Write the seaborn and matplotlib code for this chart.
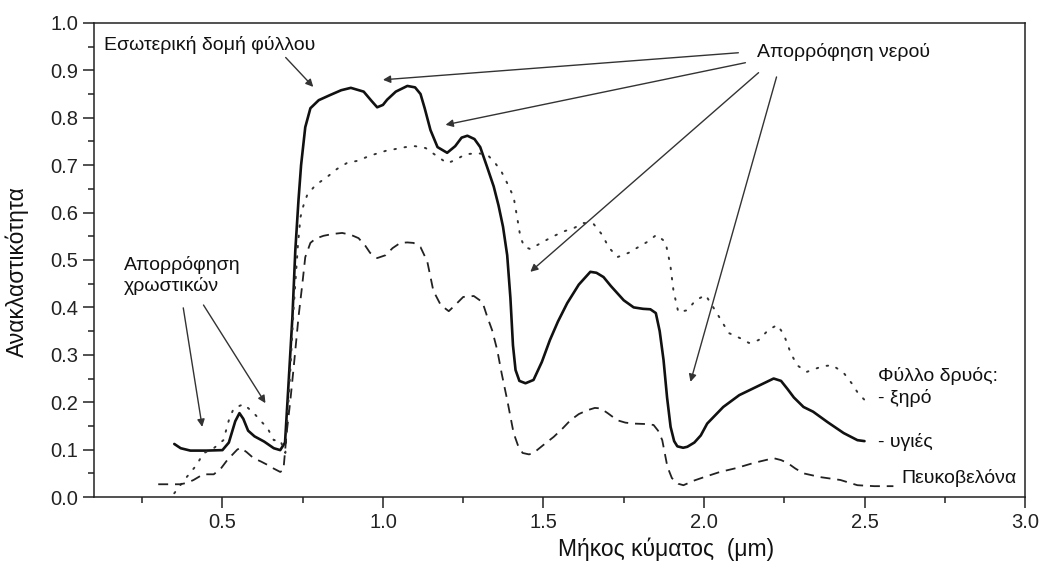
import numpy as np
import pandas as pd
import matplotlib
matplotlib.use("Agg")
import matplotlib.pyplot as plt
from matplotlib.ticker import MultipleLocator
import seaborn as sns

# ---- data ----
healthy_x = [0.35, 0.37, 0.40, 0.45, 0.50, 0.52, 0.54, 0.553, 0.565, 0.58, 0.60, 0.63, 0.66, 0.68,
             0.695, 0.706, 0.718, 0.727, 0.737, 0.745, 0.758, 0.774, 0.80, 0.836, 0.87, 0.90, 0.94,
             0.965, 0.982, 1.00, 1.013, 1.04, 1.076, 1.10, 1.117, 1.13, 1.148, 1.17, 1.20, 1.225,
             1.245, 1.263, 1.285, 1.303, 1.325, 1.345, 1.36, 1.374, 1.387, 1.397, 1.405, 1.413,
             1.425, 1.444, 1.469, 1.495, 1.52, 1.545, 1.574, 1.61, 1.646, 1.665, 1.687, 1.71, 1.73,
             1.75, 1.781, 1.81, 1.833, 1.85, 1.862, 1.874, 1.885, 1.896, 1.907, 1.917, 1.935,
             1.948, 1.97, 1.99, 2.01, 2.06, 2.11, 2.165, 2.217, 2.24, 2.26, 2.28, 2.31, 2.34,
             2.385, 2.435, 2.478, 2.50]
healthy_y = [0.112, 0.103, 0.098, 0.098, 0.099, 0.115, 0.160, 0.177, 0.165, 0.140, 0.128, 0.117,
             0.103, 0.099, 0.115, 0.24, 0.38, 0.52, 0.627, 0.70, 0.78, 0.82, 0.837, 0.848, 0.858,
             0.863, 0.855, 0.835, 0.822, 0.827, 0.838, 0.855, 0.867, 0.864, 0.85, 0.82, 0.774,
             0.738, 0.726, 0.74, 0.758, 0.762, 0.755, 0.738, 0.695, 0.655, 0.615, 0.57, 0.51, 0.42,
             0.32, 0.268, 0.245, 0.240, 0.247, 0.285, 0.331, 0.37, 0.409, 0.448, 0.475, 0.473,
             0.464, 0.445, 0.43, 0.415, 0.40, 0.397, 0.396, 0.388, 0.35, 0.289, 0.21, 0.148, 0.118,
             0.107, 0.104, 0.106, 0.115, 0.13, 0.155, 0.19, 0.215, 0.233, 0.25, 0.245, 0.228,
             0.21, 0.19, 0.18, 0.158, 0.135, 0.12, 0.118]

dry_x = [0.35, 0.38, 0.42, 0.44, 0.473, 0.503, 0.52, 0.535, 0.566, 0.598, 0.62, 0.64, 0.66, 0.68,
         0.696, 0.71, 0.722, 0.735, 0.743, 0.752, 0.764, 0.79, 0.826, 0.857, 0.889, 0.92, 0.96,
         1.008, 1.039, 1.07, 1.10, 1.133, 1.164, 1.20, 1.226, 1.257, 1.293, 1.324, 1.35, 1.37,
         1.387, 1.407, 1.418, 1.428, 1.44, 1.459, 1.49, 1.525, 1.562, 1.594, 1.625, 1.656, 1.683,
         1.703, 1.73, 1.765, 1.795, 1.823, 1.852, 1.88, 1.895, 1.905, 1.92, 1.948, 1.974, 2.005,
         2.04, 2.077, 2.113, 2.14, 2.17, 2.20, 2.228, 2.248, 2.27, 2.29, 2.32, 2.37, 2.40, 2.435,
         2.46, 2.48, 2.50]
dry_y = [0.008, 0.035, 0.068, 0.092, 0.103, 0.12, 0.162, 0.187, 0.196, 0.177, 0.16, 0.146, 0.12,
         0.12, 0.093, 0.25, 0.40, 0.53, 0.59, 0.614, 0.637, 0.658, 0.675, 0.692, 0.705, 0.709,
         0.72, 0.73, 0.734, 0.738, 0.74, 0.736, 0.721, 0.704, 0.711, 0.723, 0.725, 0.723, 0.704,
         0.685, 0.662, 0.633, 0.59, 0.549, 0.528, 0.523, 0.535, 0.548, 0.56, 0.567, 0.578, 0.576,
         0.553, 0.527, 0.506, 0.515, 0.527, 0.538, 0.553, 0.538, 0.49, 0.435, 0.39, 0.394, 0.415,
         0.426, 0.388, 0.346, 0.335, 0.325, 0.331, 0.352, 0.363, 0.344, 0.304, 0.278, 0.264,
         0.276, 0.278, 0.262, 0.24, 0.219, 0.205]

pine_x = [0.30, 0.34, 0.369, 0.39, 0.41, 0.44, 0.473, 0.495, 0.515, 0.546, 0.556, 0.575, 0.597,
          0.62, 0.64, 0.66, 0.68, 0.69, 0.70, 0.711, 0.722, 0.737, 0.749, 0.758, 0.774, 0.79,
          0.815, 0.845, 0.873, 0.90, 0.924, 0.945, 0.96, 0.982, 1.008, 1.03, 1.054, 1.076, 1.095,
          1.117, 1.138, 1.157, 1.18, 1.205, 1.225, 1.25, 1.283, 1.31, 1.325, 1.34, 1.356, 1.37,
          1.387, 1.407, 1.42, 1.435, 1.455, 1.469, 1.50, 1.532, 1.56, 1.584, 1.61, 1.636, 1.66,
          1.678, 1.70, 1.73, 1.755, 1.78, 1.82, 1.843, 1.857, 1.87, 1.886, 1.90, 1.92, 1.936,
          1.97, 2.0, 2.05, 2.10, 2.155, 2.217, 2.24, 2.26, 2.285, 2.31, 2.363, 2.425, 2.478,
          2.53, 2.59]
pine_y = [0.027, 0.027, 0.027, 0.03, 0.036, 0.048, 0.048, 0.06, 0.078, 0.10, 0.104, 0.095, 0.082,
          0.075, 0.068, 0.06, 0.053, 0.057, 0.135, 0.20, 0.274, 0.38, 0.45, 0.506, 0.536, 0.545,
          0.551, 0.555, 0.557, 0.553, 0.546, 0.53, 0.515, 0.504, 0.51, 0.525, 0.536, 0.537, 0.536,
          0.527, 0.497, 0.435, 0.405, 0.392, 0.405, 0.422, 0.424, 0.411, 0.38, 0.352, 0.31, 0.26,
          0.205, 0.135, 0.11, 0.093, 0.09, 0.093, 0.11, 0.127, 0.145, 0.162, 0.175, 0.183, 0.188,
          0.187, 0.177, 0.162, 0.157, 0.155, 0.154, 0.152, 0.14, 0.12, 0.064, 0.04, 0.028, 0.025,
          0.035, 0.042, 0.053, 0.061, 0.072, 0.082, 0.078, 0.072, 0.06, 0.05, 0.042, 0.036,
          0.025, 0.023, 0.023]

x_ticks = [0.5, 1.0, 1.5, 2.0, 2.5, 3.0]
y_ticks = [0.0, 0.1, 0.2, 0.3, 0.4, 0.5, 0.6, 0.7, 0.8, 0.9, 1.0]

# ---- style ----
sns.set_style("ticks")
plt.rcParams['font.family'] = ['Liberation Sans', 'DejaVu Sans']
plt.rcParams['axes.linewidth'] = 1.1

fig = plt.figure(figsize=(10.4, 5.72), dpi=100)
ax = fig.add_axes([0.0904, 0.131, 0.8952, 0.829])

ink = '#111111'
sns.lineplot(x=healthy_x, y=healthy_y, ax=ax, color=ink, lw=1.9, sort=False)
sns.lineplot(x=dry_x, y=dry_y, ax=ax, color='#333333', lw=1.4, sort=False,
             linestyle=(0, (0.8, 4.5)), dash_capstyle='round')
sns.lineplot(x=pine_x, y=pine_y, ax=ax, color='#222222', lw=1.3, sort=False,
             linestyle=(0, (5.5, 3.8)))

ax.set_xlim(0.1, 3.0)
ax.set_ylim(0.0, 1.0)
ax.set_xticks(x_ticks)
ax.set_yticks(y_ticks)
ax.set_xticklabels([f"{v:.1f}" for v in x_ticks])
ax.set_yticklabels([f"{v:.1f}" for v in y_ticks])
ax.xaxis.set_minor_locator(MultipleLocator(0.25))
ax.yaxis.set_minor_locator(MultipleLocator(0.05))
ax.tick_params(axis='both', which='major', direction='out', length=8, width=1.1,
               labelsize=14.5, pad=3.5, colors='#222222', top=False, right=False)
ax.tick_params(axis='both', which='minor', direction='out', length=4, width=1.1,
               top=False, right=False, colors='#222222')
for s in ax.spines.values():
    s.set_visible(True)
    s.set_color('#222222')

ax.set_xlabel("Μήκος κύματος  (μm)", fontsize=16.5, color=ink)
ax.set_ylabel("Ανακλαστικότητα", fontsize=16.5, color=ink)
ax.xaxis.set_label_coords(0.614, -0.085)
ax.yaxis.set_label_coords(-0.07, 0.475)

# ---- annotations ----
fs = 14
arrow = dict(arrowstyle='-|>', color='#333333', lw=1.0, mutation_scale=11, shrinkA=0, shrinkB=0)

ax.text(0.132, 0.954, "Εσωτερική δομή φύλλου", fontsize=fs, color=ink, ha='left', va='center')
ax.annotate("", xy=(0.783, 0.865), xytext=(0.697, 0.927), arrowprops=arrow)

ax.text(2.166, 0.939, "Απορρόφηση νερού", fontsize=fs, color=ink, ha='left', va='center')
ax.annotate("", xy=(1.0, 0.88), xytext=(2.107, 0.937), arrowprops=arrow)
ax.annotate("", xy=(1.195, 0.785), xytext=(2.129, 0.916), arrowprops=arrow)
ax.annotate("", xy=(1.459, 0.475), xytext=(2.17, 0.895), arrowprops=arrow)
ax.annotate("", xy=(1.958, 0.243), xytext=(2.226, 0.886), arrowprops=arrow)

ax.text(0.192, 0.467, "Απορρόφηση\nχρωστικών", fontsize=fs, color=ink, ha='left', va='center',
        linespacing=1.25)
ax.annotate("", xy=(0.437, 0.148), xytext=(0.378, 0.399), arrowprops=arrow)
ax.annotate("", xy=(0.634, 0.198), xytext=(0.441, 0.405), arrowprops=arrow)

ax.text(2.543, 0.255, "Φύλλο δρυός:", fontsize=fs, color=ink, ha='left', va='center')
ax.text(2.543, 0.209, "- ξηρό", fontsize=fs, color=ink, ha='left', va='center')
ax.text(2.543, 0.116, "- υγιές", fontsize=fs, color=ink, ha='left', va='center')
ax.text(2.615, 0.040, "Πευκοβελόνα", fontsize=fs, color=ink, ha='left', va='center')

fig.savefig("out.png", dpi=100, facecolor='white')
